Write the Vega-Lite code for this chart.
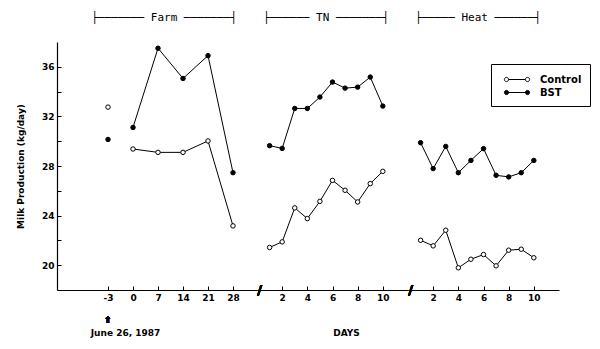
{
  "$schema": "https://vega.github.io/schema/vega-lite/v6.json",
  "background": "white",
  "padding": {"left": 16, "top": 12, "right": 2, "bottom": 5},
  "datasets": {
    "milk": [
      {"period": "Farm", "day": -3, "group": "Control", "milk": 32.75},
      {"period": "Farm", "day": 0, "group": "Control", "milk": 29.37},
      {"period": "Farm", "day": 7, "group": "Control", "milk": 29.1},
      {"period": "Farm", "day": 14, "group": "Control", "milk": 29.1},
      {"period": "Farm", "day": 21, "group": "Control", "milk": 30.02},
      {"period": "Farm", "day": 28, "group": "Control", "milk": 23.17},
      {"period": "Farm", "day": -3, "group": "BST", "milk": 30.14},
      {"period": "Farm", "day": 0, "group": "BST", "milk": 31.11},
      {"period": "Farm", "day": 7, "group": "BST", "milk": 37.5},
      {"period": "Farm", "day": 14, "group": "BST", "milk": 35.06},
      {"period": "Farm", "day": 21, "group": "BST", "milk": 36.9},
      {"period": "Farm", "day": 28, "group": "BST", "milk": 27.46},
      {"period": "TN", "day": 1, "group": "Control", "milk": 21.43},
      {"period": "TN", "day": 2, "group": "Control", "milk": 21.88},
      {"period": "TN", "day": 3, "group": "Control", "milk": 24.62},
      {"period": "TN", "day": 4, "group": "Control", "milk": 23.76},
      {"period": "TN", "day": 5, "group": "Control", "milk": 25.15},
      {"period": "TN", "day": 6, "group": "Control", "milk": 26.84},
      {"period": "TN", "day": 7, "group": "Control", "milk": 26.04},
      {"period": "TN", "day": 8, "group": "Control", "milk": 25.1},
      {"period": "TN", "day": 9, "group": "Control", "milk": 26.58},
      {"period": "TN", "day": 10, "group": "Control", "milk": 27.57},
      {"period": "TN", "day": 1, "group": "BST", "milk": 29.64},
      {"period": "TN", "day": 2, "group": "BST", "milk": 29.42},
      {"period": "TN", "day": 3, "group": "BST", "milk": 32.64},
      {"period": "TN", "day": 4, "group": "BST", "milk": 32.64},
      {"period": "TN", "day": 5, "group": "BST", "milk": 33.56},
      {"period": "TN", "day": 6, "group": "BST", "milk": 34.77},
      {"period": "TN", "day": 7, "group": "BST", "milk": 34.28},
      {"period": "TN", "day": 8, "group": "BST", "milk": 34.36},
      {"period": "TN", "day": 9, "group": "BST", "milk": 35.17},
      {"period": "TN", "day": 10, "group": "BST", "milk": 32.83},
      {"period": "Heat", "day": 1, "group": "Control", "milk": 22.01},
      {"period": "Heat", "day": 2, "group": "Control", "milk": 21.56},
      {"period": "Heat", "day": 3, "group": "Control", "milk": 22.82},
      {"period": "Heat", "day": 4, "group": "Control", "milk": 19.79},
      {"period": "Heat", "day": 5, "group": "Control", "milk": 20.48},
      {"period": "Heat", "day": 6, "group": "Control", "milk": 20.86},
      {"period": "Heat", "day": 7, "group": "Control", "milk": 19.95},
      {"period": "Heat", "day": 8, "group": "Control", "milk": 21.21},
      {"period": "Heat", "day": 9, "group": "Control", "milk": 21.29},
      {"period": "Heat", "day": 10, "group": "Control", "milk": 20.6},
      {"period": "Heat", "day": 1, "group": "BST", "milk": 29.88},
      {"period": "Heat", "day": 2, "group": "BST", "milk": 27.79},
      {"period": "Heat", "day": 3, "group": "BST", "milk": 29.58},
      {"period": "Heat", "day": 4, "group": "BST", "milk": 27.46},
      {"period": "Heat", "day": 5, "group": "BST", "milk": 28.45},
      {"period": "Heat", "day": 6, "group": "BST", "milk": 29.4},
      {"period": "Heat", "day": 7, "group": "BST", "milk": 27.25},
      {"period": "Heat", "day": 8, "group": "BST", "milk": 27.12},
      {"period": "Heat", "day": 9, "group": "BST", "milk": 27.46},
      {"period": "Heat", "day": 10, "group": "BST", "milk": 28.45}
    ]
  },
  "spacing": 0,
  "config": {
    "view": {"stroke": null},
    "font": "DejaVu Sans",
    "axis": {
      "grid": false, "domainColor": "black", "domainWidth": 1.2, "tickColor": "black", "tickSize": -4, "labelPadding": 7,
      "labelColor": "black", "labelFont": "DejaVu Sans", "labelFontWeight": "bold", "labelFontSize": 9,
      "titleColor": "black", "titleFont": "DejaVu Sans", "titleFontWeight": "bold", "titleFontSize": 9
    },
    "title": {"font": "DejaVu Sans Mono", "fontSize": 11, "fontWeight": "normal", "color": "black", "anchor": "middle", "offset": 19}
  },
  "resolve": {"scale": {"y": "shared", "fill": "shared"}},
  "hconcat": [
    {
      "width": 200, "height": 248,
      "title": {"text": "├─────── Farm ───────┤", "dx": 7},
      "data": {"name": "milk"},
      "transform": [{"filter": "datum.period === 'Farm'"}],
      "encoding": {
        "x": {"field": "day", "type": "ordinal",
          "scale": {"type": "point", "domain": [-10, -3, 0, 7, 14, 21, 28], "padding": 1, "align": 0.52},
          "axis": {"title": "June 26, 1987", "titleX": 68, "titlePadding": 26, "labelAngle": 0, "values": [-3, 0, 7, 14, 21, 28]}},
        "y": {"field": "milk", "type": "quantitative",
          "scale": {"domain": [18, 38], "nice": false, "zero": false},
          "axis": {"title": "Milk Production (kg/day)", "values": [20, 22, 24, 26, 28, 30, 32, 34, 36],
            "labelExpr": "datum.value % 4 === 0 ? datum.label : ''", "titlePadding": 16}}
      },
      "layer": [
        {"transform": [{"filter": "datum.day !== -3"}],
         "mark": {"type": "line", "color": "black", "strokeWidth": 1},
         "encoding": {"detail": {"field": "group"}}},
        {"mark": {"type": "point", "shape": "circle", "filled": true, "stroke": "black", "strokeWidth": 1, "size": 20, "opacity": 1},
         "encoding": {"fill": {"field": "group", "type": "nominal",
           "scale": {"domain": ["Control", "BST"], "range": ["white", "black"]},
           "legend": {"orient": "none", "legendX": 434, "legendY": 22, "title": null,
             "symbolType": "M-0.3,0a0.3,0.3 0 1,0 0.6,0a0.3,0.3 0 1,0 -0.6,0M0.3,0H2.7M2.7,0a0.3,0.3 0 1,0 0.6,0a0.3,0.3 0 1,0 -0.6,0",
             "symbolSize": 196, "symbolStrokeColor": "black", "symbolStrokeWidth": 1,
             "labelFont": "DejaVu Sans", "labelFontWeight": "bold", "labelFontSize": 10, "labelColor": "black",
             "labelOffset": 26, "strokeColor": "black", "padding": 8, "rowPadding": 0}}}},
        {"mark": {"type": "text", "text": "⇧", "fontSize": 9, "fontWeight": "bold", "color": "black"},
         "encoding": {"x": {"datum": -3}, "y": {"datum": 15.6}}}
      ]
    },
    {
      "width": 151, "height": 248,
      "title": {"text": "├────── TN ───────┤", "dx": -6.5},
      "data": {"name": "milk"},
      "transform": [{"filter": "datum.period === 'TN'"}],
      "encoding": {
        "x": {"field": "day", "type": "quantitative",
          "scale": {"domain": [0, 12], "nice": false, "zero": false},
          "axis": {"title": "DAYS", "titleX": 89, "titlePadding": 26, "values": [2, 4, 6, 8, 10]}},
        "y": {"field": "milk", "type": "quantitative",
          "scale": {"domain": [18, 38], "nice": false, "zero": false}, "axis": null}
      },
      "layer": [
        {"mark": {"type": "line", "color": "black", "strokeWidth": 1},
         "encoding": {"detail": {"field": "group"}}},
        {"mark": {"type": "point", "shape": "circle", "filled": true, "stroke": "black", "strokeWidth": 1, "size": 20, "opacity": 1},
         "encoding": {"fill": {"field": "group", "type": "nominal",
           "scale": {"domain": ["Control", "BST"], "range": ["white", "black"]}}}},
        {"mark": {"type": "text", "text": "/", "fontSize": 13, "fontWeight": "bold", "color": "black"},
         "encoding": {"x": {"datum": 0.2}, "y": {"datum": 18}}}
      ]
    },
    {
      "width": 151, "height": 248,
      "title": {"text": "├───── Heat ──────┤", "dx": -5.5},
      "data": {"name": "milk"},
      "transform": [{"filter": "datum.period === 'Heat'"}],
      "encoding": {
        "x": {"field": "day", "type": "quantitative",
          "scale": {"domain": [0, 12], "nice": false, "zero": false},
          "axis": {"title": null, "values": [2, 4, 6, 8, 10]}},
        "y": {"field": "milk", "type": "quantitative",
          "scale": {"domain": [18, 38], "nice": false, "zero": false}, "axis": null}
      },
      "layer": [
        {"mark": {"type": "line", "color": "black", "strokeWidth": 1},
         "encoding": {"detail": {"field": "group"}}},
        {"mark": {"type": "point", "shape": "circle", "filled": true, "stroke": "black", "strokeWidth": 1, "size": 20, "opacity": 1},
         "encoding": {"fill": {"field": "group", "type": "nominal",
           "scale": {"domain": ["Control", "BST"], "range": ["white", "black"]}}}},
        {"mark": {"type": "text", "text": "/", "fontSize": 13, "fontWeight": "bold", "color": "black"},
         "encoding": {"x": {"datum": 0.2}, "y": {"datum": 18}}}
      ]
    }
  ]
}
